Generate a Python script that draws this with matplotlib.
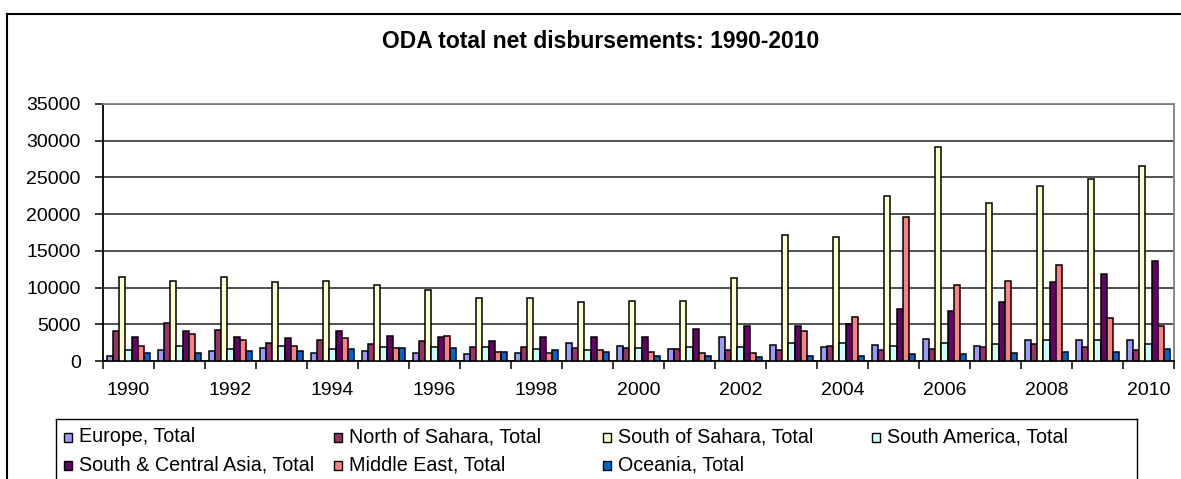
import numpy as np
import matplotlib.pyplot as plt
from matplotlib.patches import Rectangle
from matplotlib.lines import Line2D

plt.rcParams['font.family'] = ['Liberation Sans', 'DejaVu Sans']

years = list(range(1990, 2011))

europe = [700, 1500, 1320, 1730, 1140, 1320, 1090, 910, 1090, 2450, 2090,
          1680, 3230, 2230, 1860, 2230, 3050, 2050, 2860, 2860, 2860]
north_sahara = [4050, 5230, 4270, 2450, 2860, 2270, 2680, 1900, 1900, 1730, 1730,
                1680, 1500, 1450, 2050, 1450, 1680, 1860, 2270, 1860, 1500]
south_sahara = [11500, 10900, 11500, 10730, 10900, 10320, 9730, 8550, 8550, 8000, 8140,
                8140, 11270, 17180, 16820, 22450, 29140, 21450, 23860, 24820, 26590]
south_america = [1500, 2090, 1680, 2090, 1680, 1860, 1860, 1900, 1680, 1450, 1820,
                 1860, 1860, 2410, 2410, 2050, 2450, 2270, 2860, 2860, 2270]
sc_asia = [3270, 4050, 3270, 3090, 4050, 3450, 3270, 2680, 3270, 3270, 3230,
           4410, 4820, 4820, 5000, 7140, 6820, 8000, 10730, 11910, 13680]
middle_east = [2050, 3680, 2860, 2090, 3090, 1730, 3450, 1270, 1090, 1500, 1270,
               1050, 1050, 4050, 6000, 19550, 10320, 10910, 13090, 5820, 4820]
oceania = [1090, 1090, 1320, 1320, 1680, 1730, 1730, 1270, 1500, 1270, 680,
           680, 500, 680, 680, 910, 910, 1090, 1270, 1270, 1680]

series = [
    ("Europe, Total", europe, "#9999FF"),
    ("North of Sahara, Total", north_sahara, "#993366"),
    ("South of Sahara, Total", south_sahara, "#FFFFCC"),
    ("South America, Total", south_america, "#CCFFFF"),
    ("South & Central Asia, Total", sc_asia, "#660066"),
    ("Middle East, Total", middle_east, "#FF8080"),
    ("Oceania, Total", oceania, "#0066CC"),
]

W, H = 1181, 479
fig = plt.figure(figsize=(W / 100, H / 100), dpi=100)

def fx(x):
    return x / W

def fy(y):
    return 1 - y / H

ax = fig.add_axes([fx(103), fy(361), fx(1174) - fx(103), fy(104) - fy(361)])

x = np.arange(len(years))
bw = 0.121
for k, (name, vals, color) in enumerate(series):
    ax.bar(x + (k - 3) * bw, vals, width=bw, color=color,
           edgecolor="black", linewidth=1.1, zorder=3)

ax.set_xlim(-0.5, len(years) - 0.5)
ax.set_ylim(0, 35000)
ax.set_yticks(np.arange(0, 35001, 5000))
ax.yaxis.grid(True, color="#222222", linewidth=1.1, zorder=0)

# tick marks on category boundaries, labels on every other year
ax.set_xticks(np.arange(-0.5, len(years), 1.0))
ax.set_xticklabels([])
ax.set_xticks(x[::2], minor=True)
ax.set_xticklabels([str(y) for y in years[::2]], minor=True)
ax.tick_params(axis="x", which="major", length=6, width=1.1, color="black", direction="out")
ax.tick_params(axis="x", which="minor", length=0, pad=15, labelsize=14)
ax.tick_params(axis="y", length=6, width=1.1, direction="out", pad=10, labelsize=14)

for side in ("left", "bottom"):
    ax.spines[side].set_color("black")
    ax.spines[side].set_linewidth(1.3)
for side in ("top", "right"):
    ax.spines[side].set_color("#808080")
    ax.spines[side].set_linewidth(1.3)

fig.text(fx(601), fy(41), "ODA total net disbursements: 1990-2010",
         ha="center", va="center", fontsize=16.5, fontweight="bold")

# outer chart frame
fig.add_artist(Line2D([fx(7), 1.0], [fy(14), fy(14)], color="black", lw=1.5))
fig.add_artist(Line2D([fx(7), fx(7)], [fy(14), 0.0], color="black", lw=1.5))

# legend box and entries
fig.add_artist(Line2D([fx(56), fx(1137)], [fy(419), fy(419)], color="black", lw=1.0))
fig.add_artist(Line2D([fx(56), fx(56)], [fy(419), 0.0], color="black", lw=1.0))
fig.add_artist(Line2D([fx(1137), fx(1137)], [fy(419), 0.0], color="black", lw=1.0))

col_x = [64, 334, 603, 872]
row_y = [437, 465]
for k, (name, vals, color) in enumerate(series):
    cx = col_x[k % 4]
    cy = row_y[k // 4]
    fig.add_artist(Rectangle((fx(cx), fy(cy + 4.5)), fx(8), 9 / H,
                             facecolor=color, edgecolor="black", linewidth=1.0))
    fig.text(fx(cx + 15), fy(cy), name, ha="left", va="center", fontsize=14.2)

fig.savefig("out.png", dpi=100)
